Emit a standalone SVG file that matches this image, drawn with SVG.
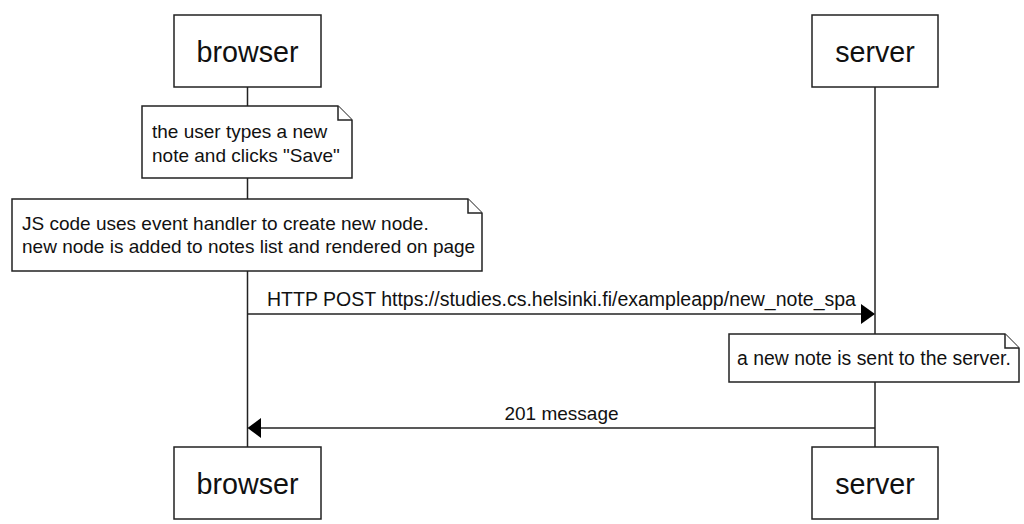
<svg xmlns="http://www.w3.org/2000/svg" width="1024" height="524" viewBox="0 0 1024 524">
<style>
.box{fill:#fff;stroke:#222;stroke-width:1.5}
.life{stroke:#222;stroke-width:1.5;fill:none}
.msg{stroke:#222;stroke-width:1.5;fill:none}
.lbl{font-family:"Liberation Sans",Arial,sans-serif;font-size:28.7px;fill:#111;text-anchor:middle}
.txt{font-family:"Liberation Sans",Arial,sans-serif;font-size:19px;fill:#111}
.head{fill:#000}
</style>
<rect width="1024" height="524" fill="#fff"/>
<g id="lifelines">
<line class="life" x1="247.5" y1="87" x2="247.5" y2="447"/>
<line class="life" x1="875" y1="87" x2="875" y2="447"/>
</g>
<g id="browser-top"><rect class="box" x="174" y="15" width="147" height="72"/><text class="lbl" x="247.5" y="62">browser</text></g>
<g id="server-top"><rect class="box" x="812" y="15" width="126" height="72"/><text class="lbl" x="875" y="62">server</text></g>
<g id="browser-bottom"><rect class="box" x="174" y="447" width="147" height="72"/><text class="lbl" x="247.5" y="494">browser</text></g>
<g id="server-bottom"><rect class="box" x="812" y="447" width="126" height="72"/><text class="lbl" x="875" y="494">server</text></g>
<g id="note1">
<path class="box" d="M142,106 H338 L352,120 V178 H142 Z"/><path class="box" d="M338,106 V120 H352"/>
<text class="txt" x="152" y="138">the user types a new</text>
<text class="txt" x="152" y="162">note and clicks "Save"</text>
</g>
<g id="note2">
<path class="box" d="M12,199 H468 L482,213 V271 H12 Z"/><path class="box" d="M468,199 V213 H482"/>
<text class="txt" x="22" y="230">JS code uses event handler to create new node.</text>
<text class="txt" x="22" y="253">new node is added to notes list and rendered on page</text>
</g>
<g id="note3">
<path class="box" d="M729,334 H1005 L1019,348 V382 H729 Z"/><path class="box" d="M1005,334 V348 H1019"/>
<text class="txt" x="737" y="365" style="font-size:19.4px">a new note is sent to the server.</text>
</g>
<g id="connectors">
<line class="msg" x1="247.5" y1="314" x2="862" y2="314"/>
<path class="head" d="M861,304 L875,314 L861,324 Z"/>
<text class="txt" x="561.5" y="306" text-anchor="middle" style="font-size:19.5px">HTTP POST https://studies.cs.helsinki.fi/exampleapp/new_note_spa</text>
<line class="msg" x1="875" y1="428" x2="260" y2="428"/>
<path class="head" d="M261,418 L247.5,428 L261,438 Z"/>
<text class="txt" x="561.5" y="420" text-anchor="middle">201 message</text>
</g>
</svg>
